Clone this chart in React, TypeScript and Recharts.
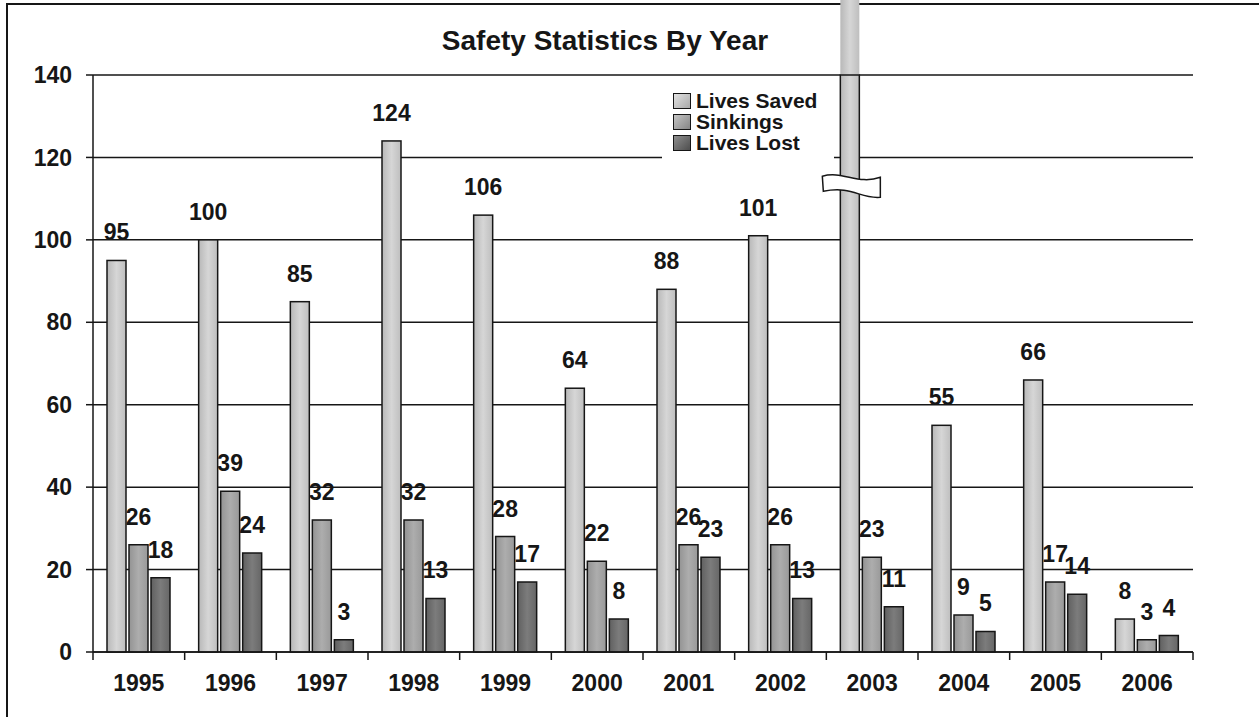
import React from 'react';
import { BarChart, Bar, XAxis, YAxis, CartesianGrid, Legend, LabelList } from 'recharts';

const years = ['1995', '1996', '1997', '1998', '1999', '2000', '2001', '2002', '2003', '2004', '2005', '2006'];
// 2003 "Lives Saved" runs off the top of the scale (broken bar, no label) - value is a guess
const livesSaved = [95, 100, 85, 124, 106, 64, 88, 101, 171, 55, 66, 8];
const sinkings = [26, 39, 32, 32, 28, 22, 26, 26, 23, 9, 17, 3];
const livesLost = [18, 24, 3, 13, 17, 8, 23, 13, 11, 5, 14, 4];
const yTicks = [0, 20, 40, 60, 80, 100, 120, 140];
const seriesOrder = ['saved', 'sinkings', 'lost'];

const Y_MAX = 140;
const BREAK_AT = 113;
const FONT = '"Liberation Sans", Arial, sans-serif';
const INK = '#161616';
const X_TICK_SIZE = 8;
const X_TICK_MARGIN = 15;

const data = years.map((year, i) => ({
  year,
  saved: Math.min(livesSaved[i], Y_MAX),
  savedRaw: livesSaved[i],
  sinkings: sinkings[i],
  lost: livesLost[i],
}));

const SavedShape = (props: any) => {
  const { x, y, width, height, payload } = props;
  if (payload.savedRaw <= Y_MAX) {
    return <rect x={x} y={y} width={width} height={height} fill="url(#gSaved)" stroke={INK} strokeWidth={1.5} />;
  }
  // bar runs past the axis top, draw it up to the top of the page with a break marker
  const bottom = y + height;
  const ppu = height / Y_MAX;
  const by = bottom - BREAK_AT * ppu;
  const x0 = x - 18;
  const x1 = x + width + 21;
  const d =
    `M${x0},${by - 10} C${x0 + 20},${by - 16} ${x0 + 36},${by - 1} ${x1},${by - 9} ` +
    `L${x1},${by + 11} C${x1 - 20},${by + 13} ${x0 + 30},${by - 1} ${x0 + 1},${by + 5} Z`;
  return (
    <g>
      <rect x={x} y={0} width={width} height={y} fill="url(#gSaved)" />
      <rect x={x} y={y} width={width} height={height} fill="url(#gSaved)" stroke={INK} strokeWidth={1.5} />
      <path d={d} fill="#fff" stroke={INK} strokeWidth={1.5} />
    </g>
  );
};

const YearTick = (props: any) => {
  const { x, y, payload, index, visibleTicksCount } = props;
  const axisY = y - X_TICK_SIZE - X_TICK_MARGIN;
  const half = payload.offset || 0;
  return (
    <g>
      <line x1={x - half} x2={x - half} y1={axisY} y2={axisY + X_TICK_SIZE} stroke={INK} strokeWidth={1.5} />
      {index === visibleTicksCount - 1 && (
        <line x1={x + half} x2={x + half} y1={axisY} y2={axisY + X_TICK_SIZE} stroke={INK} strokeWidth={1.5} />
      )}
      <text x={x} y={y} dy="0.71em" textAnchor="middle" fill={INK} fontSize={23} fontWeight="bold" fontFamily={FONT}>
        {payload.value}
      </text>
    </g>
  );
};

const swatchFill: Record<string, string> = {
  saved: 'linear-gradient(135deg, #e2e2e2, #a9a9a9)',
  sinkings: 'linear-gradient(135deg, #c4c4c4, #858585)',
  lost: 'linear-gradient(135deg, #8e8e8e, #4e4e4e)',
};

const LegendBox = (props: any) => {
  const items = [...props.payload].sort(
    (a: any, b: any) => seriesOrder.indexOf(a.dataKey) - seriesOrder.indexOf(b.dataKey)
  );
  return (
    <div style={{ paddingLeft: 11, paddingTop: 2 }}>
      {items.map((p: any) => (
        <div key={p.value} style={{ display: 'flex', alignItems: 'center', height: 21 }}>
          <span
            style={{
              width: 16,
              height: 14,
              border: `1.5px solid ${INK}`,
              background: swatchFill[p.dataKey],
              marginRight: 5,
            }}
          />
          <span style={{ fontSize: 21, fontWeight: 'bold', fontFamily: FONT, color: INK, lineHeight: '21px' }}>
            {p.value}
          </span>
        </div>
      ))}
    </div>
  );
};

const labelStyle = { fill: INK, fontSize: 23, fontWeight: 'bold', fontFamily: FONT };

export default function App() {
  return (
    <div style={{ position: 'absolute', left: 0, top: 0, width: 1259, height: 717, background: '#fff' }}>
      <div
        style={{
          position: 'absolute',
          left: 6,
          top: 3,
          width: 1253,
          height: 714,
          borderTop: `2px solid ${INK}`,
          borderLeft: `2px solid ${INK}`,
        }}
      />
      <div
        style={{
          position: 'absolute',
          left: 305,
          top: 27,
          width: 600,
          textAlign: 'center',
          fontFamily: FONT,
          fontWeight: 'bold',
          fontSize: 28,
          lineHeight: '28px',
          color: INK,
        }}
      >
        Safety Statistics By Year
      </div>
      <div style={{ position: 'absolute', left: 0, top: 0 }}>
        <BarChart
          width={1259}
          height={717}
          data={data}
          margin={{ top: 75, right: 66, bottom: 0, left: 0 }}
          barSize={19}
          barGap={3}
        >
          <defs>
            <linearGradient id="gSaved" x1="0" y1="0" x2="1" y2="0">
              <stop offset="0%" stopColor="#b8b8b8" />
              <stop offset="50%" stopColor="#d6d6d6" />
              <stop offset="100%" stopColor="#bebebe" />
            </linearGradient>
            <linearGradient id="gSink" x1="0" y1="0" x2="1" y2="0">
              <stop offset="0%" stopColor="#939393" />
              <stop offset="50%" stopColor="#adadad" />
              <stop offset="100%" stopColor="#999999" />
            </linearGradient>
            <linearGradient id="gLost" x1="0" y1="0" x2="1" y2="0">
              <stop offset="0%" stopColor="#606060" />
              <stop offset="50%" stopColor="#7c7c7c" />
              <stop offset="100%" stopColor="#666666" />
            </linearGradient>
          </defs>
          <CartesianGrid vertical={false} stroke={INK} strokeWidth={1.5} />
          <XAxis
            dataKey="year"
            height={65}
            interval={0}
            tickLine={false}
            tickSize={X_TICK_SIZE}
            tickMargin={X_TICK_MARGIN}
            axisLine={{ stroke: INK, strokeWidth: 1.5 }}
            tick={<YearTick />}
          />
          <YAxis
            domain={[0, Y_MAX]}
            ticks={yTicks}
            interval={0}
            width={93}
            tickSize={7}
            tickMargin={14}
            axisLine={{ stroke: INK, strokeWidth: 1.5 }}
            tickLine={{ stroke: INK, strokeWidth: 1.5 }}
            tick={labelStyle}
          />
          <YAxis
            yAxisId="right"
            orientation="right"
            domain={[0, Y_MAX]}
            ticks={yTicks}
            width={0}
            tick={false}
            tickLine={false}
            axisLine={{ stroke: INK, strokeWidth: 1.5 }}
          />
          <Legend
            layout="vertical"
            align="center"
            verticalAlign="middle"
            content={<LegendBox />}
            wrapperStyle={{ left: 662, top: 88, width: 172, height: 75, background: '#fff' }}
          />
          <Bar dataKey="saved" name="Lives Saved" fill="url(#gSaved)" shape={<SavedShape />} isAnimationActive={false}>
            <LabelList
              dataKey="savedRaw"
              position="top"
              offset={20}
              style={labelStyle}
              formatter={(v: any) => (v > Y_MAX ? '' : v)}
            />
          </Bar>
          <Bar dataKey="sinkings" name="Sinkings" fill="url(#gSink)" stroke={INK} strokeWidth={1.5} isAnimationActive={false}>
            <LabelList dataKey="sinkings" position="top" offset={20} style={labelStyle} />
          </Bar>
          <Bar dataKey="lost" name="Lives Lost" fill="url(#gLost)" stroke={INK} strokeWidth={1.5} isAnimationActive={false}>
            <LabelList dataKey="lost" position="top" offset={20} style={labelStyle} />
          </Bar>
        </BarChart>
      </div>
    </div>
  );
}
